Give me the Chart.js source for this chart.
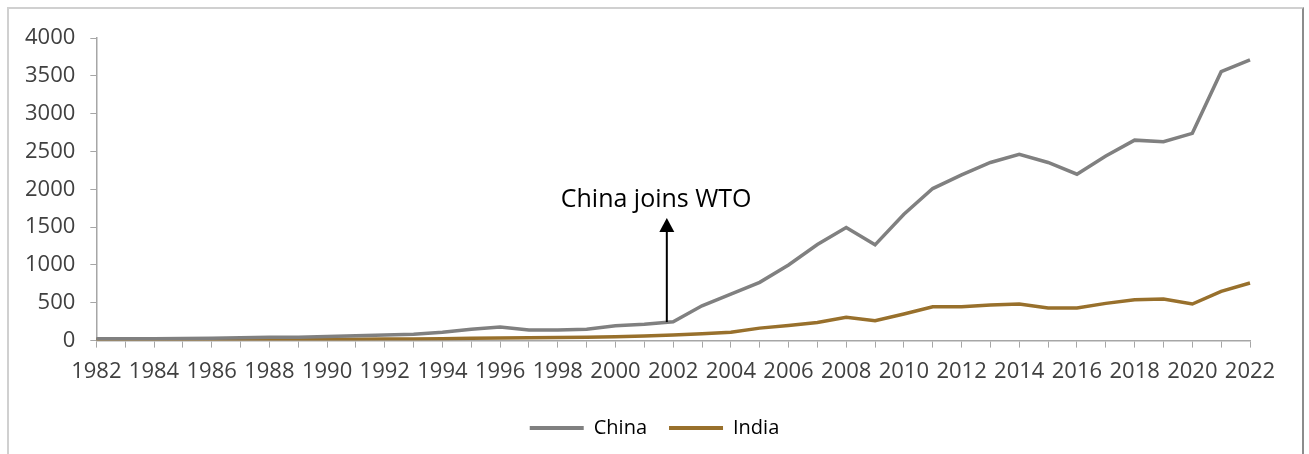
<!DOCTYPE html>
<html>
<head>
<meta charset="utf-8">
<script src="https://cdn.jsdelivr.net/npm/chart.js@4.4.1/dist/chart.umd.min.js"></script>
<style>
html,body{margin:0;padding:0;background:#fff;overflow:hidden}
#wrap{position:relative;width:1309px;height:454px}
#frame{position:absolute;left:7px;top:7px;width:1297px;height:470px;border-left:2px solid #d0d0d0;border-top:2px solid #d0d0d0;border-right:2px solid #8c8c8c;box-sizing:border-box}
canvas{position:absolute;left:0;top:0}
</style>
</head>
<body>
<div id="wrap">
  <div id="frame"></div>
  <canvas id="c" width="1309" height="454"></canvas>
</div>
<script>
const years=[];
for(let y=1982;y<=2022;y++)years.push(String(y));

const china=[25,25,25,28,30,38,45,45,55,65,75,85,
  110,150,180,140,140,150,195,215,250,460,
  615,770,1000,1270,1495,1266,1670,2010,2190,2355,
  2463,2355,2200,2440,2650,2630,2740,3555,3710];
const india=[10,10,10,12,12,14,15,16,17,18,20,22,
  25,30,35,38,40,45,50,60,75,90,
  110,165,200,240,307,264,352,448,448,471,
  484,431,431,492,540,550,484,650,762];

const yTicks=[0,500,1000,1500,2000,2500,3000,3500,4000];

// WTO note: text + arrow pointing up from the 2002 China value
const note={text:'China joins WTO',textX:19.41,textY:1860,arrowX:19.78,arrowFrom:245,arrowTo:1620};

const FONT='"Open Sans", sans-serif';
const AXIS='#a6a6a6';

const notePlugin={
  id:'note',
  afterDatasetsDraw(chart){
    const {ctx,scales:{x,y}}=chart;
    const ax=x.getPixelForValue(note.arrowX);
    const y0=y.getPixelForValue(note.arrowFrom);
    const y1=y.getPixelForValue(note.arrowTo);
    ctx.save();
    ctx.strokeStyle='#000';ctx.fillStyle='#000';ctx.lineWidth=2;
    ctx.beginPath();ctx.moveTo(ax,y0);ctx.lineTo(ax,y1+12);ctx.stroke();
    ctx.beginPath();ctx.moveTo(ax,y1);ctx.lineTo(ax-7.5,y1+14);ctx.lineTo(ax+7.5,y1+14);ctx.closePath();ctx.fill();
    ctx.font='25px '+FONT;
    ctx.textAlign='center';ctx.textBaseline='middle';
    ctx.fillText(note.text,x.getPixelForValue(note.textX),y.getPixelForValue(note.textY));
    ctx.restore();
  }
};

// centre the legend on the whole canvas rather than the padded box
const legendCentre={
  id:'legendCentre',
  afterLayout(chart){
    const lg=chart.legend;
    const shift=(chart.width-(lg.left+lg.right))/2;
    lg.left+=shift;lg.right+=shift;
  }
};

new Chart(document.getElementById('c'),{
  type:'line',
  data:{labels:years,datasets:[
    {label:'China',data:china,borderColor:'#808080',backgroundColor:'#808080',borderWidth:3.5,pointRadius:0,tension:0},
    {label:'India',data:india,borderColor:'#98702c',backgroundColor:'#98702c',borderWidth:3.5,pointRadius:0,tension:0}
  ]},
  options:{
    responsive:false,animation:false,
    layout:{padding:{left:10,right:59,top:38,bottom:6}},
    plugins:{
      tooltip:{enabled:false},
      legend:{position:'bottom',
        labels:{font:{family:FONT,size:20},color:'#404040',boxWidth:54,boxHeight:4,padding:22,
          generateLabels:ch=>ch.data.datasets.map((d,i)=>({text:d.label,fillStyle:d.borderColor,strokeStyle:d.borderColor,lineWidth:0,datasetIndex:i}))}}
    },
    scales:{
      x:{offset:false,
        grid:{drawOnChartArea:false,drawTicks:true,tickLength:7,color:AXIS},
        border:{color:AXIS,width:1.5},
        ticks:{autoSkip:false,maxRotation:0,padding:11,font:{family:FONT,size:22},color:'#404040',
          callback:(v,i)=>i%2===0?years[i]:''}},
      y:{min:0,max:4000,
        afterBuildTicks:s=>{s.ticks=yTicks.map(v=>({value:v}))},
        grid:{drawOnChartArea:false,drawTicks:true,tickLength:6,color:AXIS},
        border:{color:AXIS,width:1.5},
        ticks:{padding:15,font:{family:FONT,size:22},color:'#404040',callback:v=>String(v)}}
    }
  },
  plugins:[notePlugin,legendCentre]
});
</script>
</body>
</html>
